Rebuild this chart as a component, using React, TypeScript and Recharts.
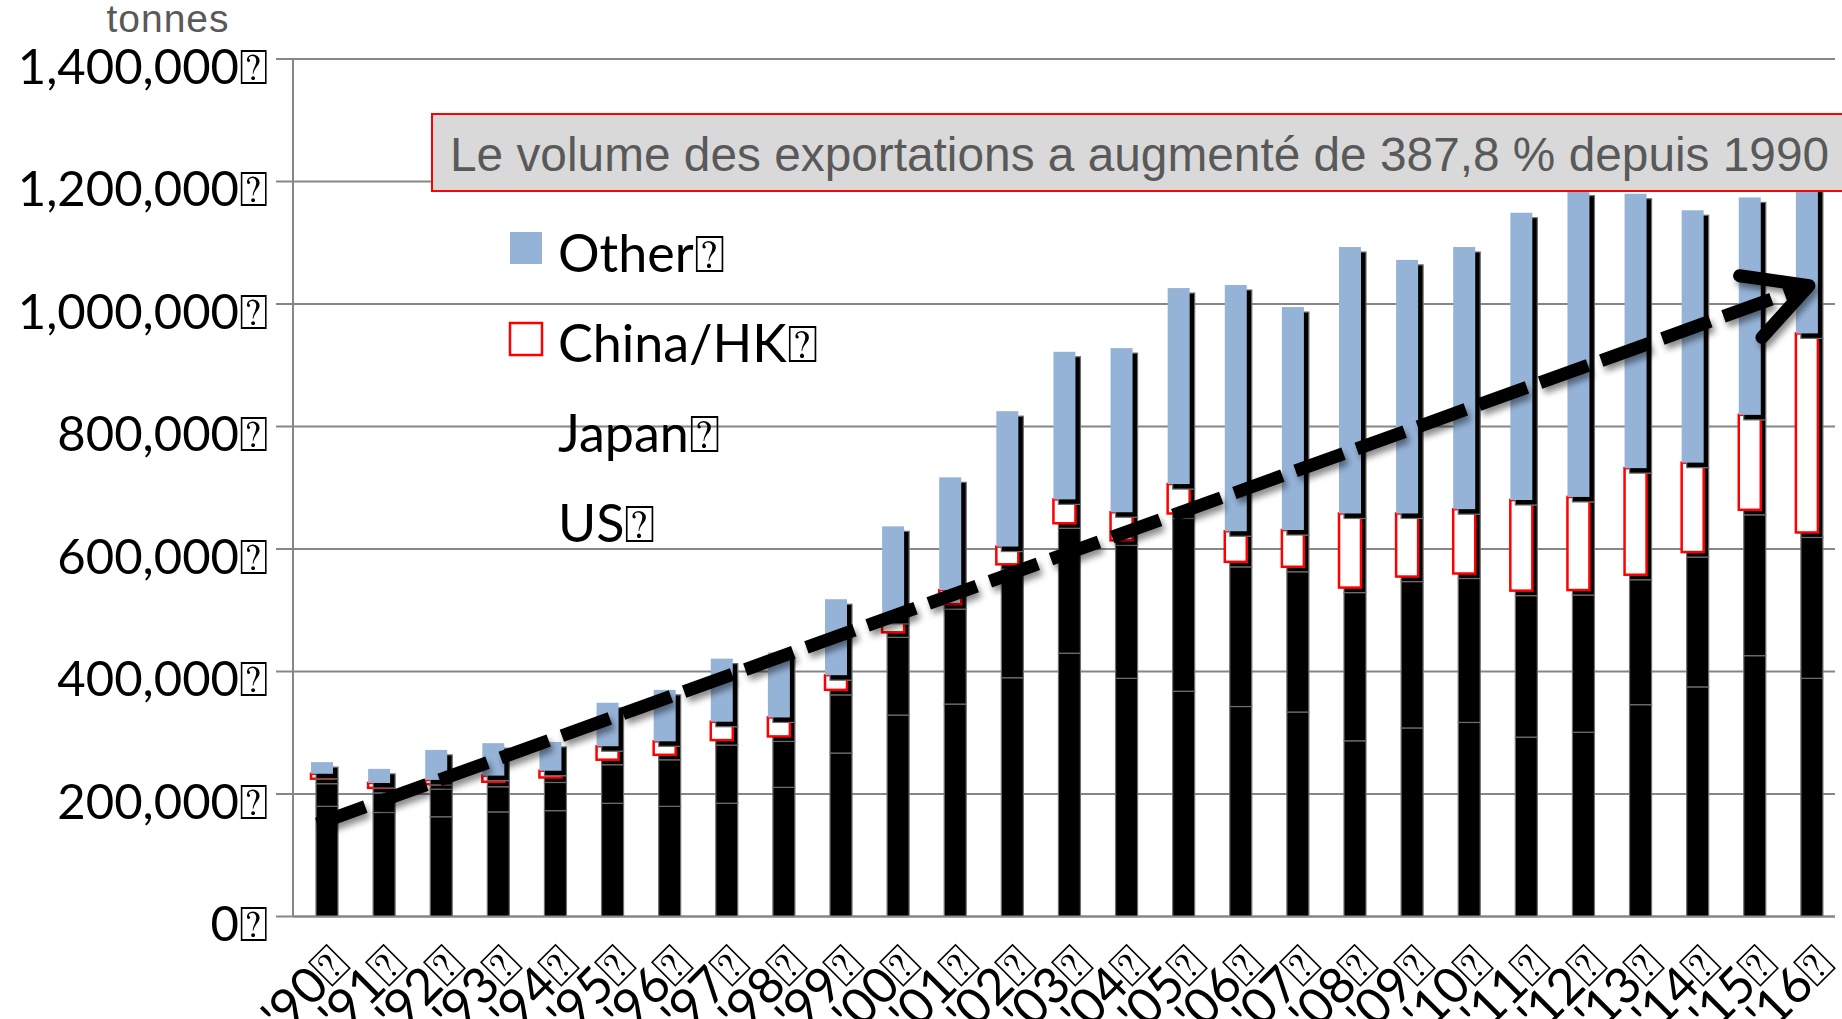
import React from 'react';
import { BarChart, Bar, XAxis, YAxis, CartesianGrid, ReferenceLine, Legend } from 'recharts';

// export volumes in tonnes
const years = ["'90", "'91", "'92", "'93", "'94", "'95", "'96", "'97", "'98", "'99", "'00", "'01", "'02", "'03", "'04", "'05", "'06", "'07", "'08", "'09", "'10", "'11", "'12", "'13", "'14", "'15", "'16"];
const usTonnes = [188000, 178000, 171000, 179000, 181000, 193000, 188000, 193000, 219000, 275000, 337000, 355000, 398000, 438000, 397000, 376000, 351000, 342000, 295000, 316000, 325000, 301000, 309000, 354000, 383000, 434000, 397000];
const japanTonnes = [37000, 32000, 45000, 41000, 46000, 63000, 76000, 95000, 75000, 95000, 127000, 155000, 177000, 204000, 217000, 282000, 228000, 229000, 242000, 239000, 235000, 231000, 224000, 204000, 212000, 230000, 230000];
const chinaTonnes = [8000, 8000, 7000, 10000, 11000, 22000, 22000, 30000, 31000, 24000, 22000, 23000, 29000, 39000, 46000, 48000, 50000, 60000, 121000, 103000, 105000, 148000, 152000, 174000, 146000, 155000, 325000];
const otherTonnes = [19000, 23000, 49000, 53000, 47000, 71000, 84000, 103000, 106000, 124000, 151000, 184000, 221000, 241000, 268000, 320000, 402000, 364000, 435000, 414000, 428000, 469000, 500000, 448000, 412000, 355000, 277000];
const yTicks = [0, 200000, 400000, 600000, 800000, 1000000, 1200000, 1400000];
const legendOrder = ['other', 'china', 'japan', 'us'];

// trend arrow ends, in (category index, tonnes)
const trendStart = { x: 0.41, y: 151000 };
const trendEnd = { x: 25.56, y: 1030000 };

const MISSING = '\u2370';
const GRID = '#868686';
const BLUE = '#95b3d7';
const RED = '#ff0000';
const LABEL_FONT = 'Lato, "Open Sans", sans-serif';
const NOTE_FONT = '"Liberation Sans", Arial, sans-serif';
const SHADOW = 5;

const data = years.map((year, i) => ({
  year,
  us: usTonnes[i],
  japan: japanTonnes[i],
  china: chinaTonnes[i],
  other: otherTonnes[i],
}));
const boundaries = [...years.map((_, i) => i - 0.5), years.length - 0.5];

const ShadowRect = ({ x, y, width, height }: any) => (
  <rect x={x + SHADOW} y={y + SHADOW} width={width} height={height} fill="#000" stroke="#6e6e6e" strokeWidth={1.2} />
);

// US and Japan have no fill in the original: only their shadow shows
const shadowOnlyBar = (props: any) => <ShadowRect {...props} />;

const chinaBar = (props: any) => (
  <g>
    <ShadowRect {...props} />
    <rect x={props.x} y={props.y} width={props.width} height={props.height} fill="#fff" stroke={RED} strokeWidth={2.5} />
  </g>
);

const otherBar = (props: any) => (
  <g>
    <ShadowRect {...props} />
    <rect x={props.x} y={props.y} width={props.width} height={props.height} fill={BLUE} />
  </g>
);

const ArrowShape = (props: any) => {
  const { x1, y1, x2, y2 } = props;
  const ang = Math.atan2(y2 - y1, x2 - x1);
  const len = 70;
  const spread = (28 * Math.PI) / 180;
  const ax = x2 - len * Math.cos(ang - spread);
  const ay = y2 - len * Math.sin(ang - spread);
  const bx = x2 - len * Math.cos(ang + spread);
  const by = y2 - len * Math.sin(ang + spread);
  return (
    <g>
      <defs>
        <filter id="arrowShadow" x="-10%" y="-10%" width="120%" height="130%">
          <feDropShadow dx="3" dy="5" stdDeviation="3" floodColor="#000" floodOpacity="0.45" />
        </filter>
      </defs>
      <g filter="url(#arrowShadow)">
        <line x1={x1} y1={y1} x2={x2} y2={y2} stroke="#000" strokeWidth={13} strokeDasharray="51 14" />
        <polyline points={`${ax},${ay} ${x2},${y2} ${bx},${by}`} fill="none" stroke="#000" strokeWidth={13} strokeLinecap="round" strokeLinejoin="round" />
      </g>
    </g>
  );
};

const YTick = ({ x, y, payload }: any) => (
  <text x={x} y={y + 7.5} dy="0.355em" textAnchor="end" fontFamily={LABEL_FONT} fontSize={49} fill="#000">
    {payload.value.toLocaleString('en-US') + MISSING}
  </text>
);

const XTick = ({ x, y, payload }: any) => {
  const tx = x + 31;
  const ty = y + 50;
  return (
    <text x={tx} y={ty} transform={`rotate(-45, ${tx}, ${ty})`} textAnchor="end" fontFamily={LABEL_FONT} fontSize={50} fill="#000">
      {payload.value + MISSING}
    </text>
  );
};

const NoTick = () => <g />;

const renderLegend = (props: any) => {
  const payload = props.payload || [];
  const items = legendOrder.map((key) => payload.find((p: any) => p.dataKey === key)).filter(Boolean);
  return (
    <svg width={320} height={360}>
      {items.map((item: any, i: number) => {
        const base = 52 + i * 90;
        let swatch = null;
        if (item.dataKey === 'other') {
          swatch = <rect x={10} y={base - 40} width={32} height={32} fill={BLUE} />;
        } else if (item.dataKey === 'china') {
          swatch = <rect x={10} y={base - 39} width={32} height={32} fill="#fff" stroke={RED} strokeWidth={2.5} />;
        }
        return (
          <g key={item.dataKey}>
            {swatch}
            <text x={58} y={base} fontFamily={LABEL_FONT} fontSize={52} fill="#000">
              {item.value + MISSING}
            </text>
          </g>
        );
      })}
    </svg>
  );
};

export default function App() {
  return (
    <div style={{ position: 'fixed', left: 0, top: 0, width: 1842, height: 1019, overflow: 'hidden', background: '#fff' }}>
      <BarChart width={1842} height={1019} data={data} margin={{ top: 59, right: 7, left: 0, bottom: 0 }} barSize={22}>
        <XAxis
          xAxisId="num"
          type="number"
          domain={[-0.5, years.length - 0.5]}
          allowDataOverflow
          ticks={boundaries}
          interval={0}
          height={0}
          axisLine={false}
          tickLine={{ stroke: GRID, strokeWidth: 2 }}
          tickSize={17}
          tick={<NoTick />}
        />
        <XAxis
          xAxisId="cat"
          dataKey="year"
          height={102.5}
          interval={0}
          axisLine={{ stroke: GRID, strokeWidth: 2 }}
          tickLine={false}
          tickSize={0}
          tickMargin={0}
          tick={<XTick />}
        />
        <YAxis
          domain={[0, 1400000]}
          ticks={yTicks}
          interval={0}
          allowDataOverflow
          width={293}
          axisLine={{ stroke: GRID, strokeWidth: 2 }}
          tickLine={{ stroke: GRID, strokeWidth: 2 }}
          tickSize={17}
          tickMargin={8}
          tick={<YTick />}
        />
        <CartesianGrid xAxisId="cat" vertical={false} stroke={GRID} strokeWidth={2} />
        <Legend
          layout="vertical"
          align="center"
          verticalAlign="middle"
          content={renderLegend}
          wrapperStyle={{ position: 'absolute', left: 500, top: 220, width: 320, height: 360 }}
        />
        <Bar xAxisId="cat" dataKey="us" name="US" stackId="a" fill="#000" shape={shadowOnlyBar} isAnimationActive={false} />
        <Bar xAxisId="cat" dataKey="japan" name="Japan" stackId="a" fill="#000" shape={shadowOnlyBar} isAnimationActive={false} />
        <Bar xAxisId="cat" dataKey="china" name="China/HK" stackId="a" fill="#fff" shape={chinaBar} isAnimationActive={false} />
        <Bar xAxisId="cat" dataKey="other" name="Other" stackId="a" fill={BLUE} shape={otherBar} isAnimationActive={false} />
        <ReferenceLine xAxisId="num" segment={[trendStart, trendEnd]} ifOverflow="visible" shape={ArrowShape} />
      </BarChart>
      <svg width={1842} height={1019} style={{ position: 'absolute', left: 0, top: 0, pointerEvents: 'none' }}>
        <text x={168} y={32} textAnchor="middle" fontFamily={NOTE_FONT} fontSize={39} letterSpacing={1} fill="#595959">
          tonnes
        </text>
        <rect x={432} y={114} width={1500} height={77} fill="#d9d9d9" stroke={RED} strokeWidth={2} />
        <text x={450} y={171} fontFamily={NOTE_FONT} fontSize={47.8} fill="#595959">
          Le volume des exportations a augmenté de 387,8 % depuis 1990
        </text>
      </svg>
    </div>
  );
}
